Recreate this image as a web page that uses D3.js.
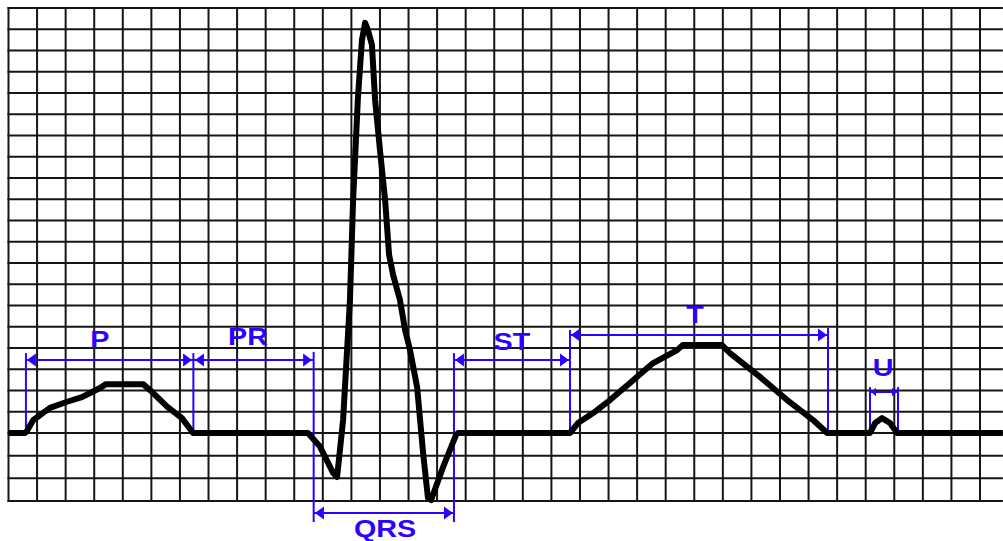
<!DOCTYPE html>
<html>
<head>
<meta charset="utf-8">
<script src="https://cdn.jsdelivr.net/npm/d3@7"></script>
<style>
  html, body { margin: 0; padding: 0; background: #fff; }
  svg { display: block; }
</style>
</head>
<body>
<svg id="chart" width="1003" height="541"></svg>
<script>
// ---- Data (grid units: x = small squares of time, y = small squares of amplitude, baseline = 0) ----
const gridCols = d3.range(0, 35);          // vertical grid lines
const gridRows = d3.range(-3, 21);         // horizontal grid lines

const ecgX = [0, 0.58, 0.65, 0.86, 1.45, 2.05, 2.57, 3.2, 3.41, 4.71, 5.02, 5.55, 6.07, 6.46,
  10.48, 10.9, 11.36, 11.5,
  11.71, 11.95, 12.06, 12.23, 12.37, 12.48,
  12.58, 12.72, 12.83, 13.0, 13.18, 13.32, 13.46, 13.7, 13.88, 14.05, 14.3, 14.51, 14.68, 14.79,
  15.21, 15.66, 15.73,
  19.65, 19.93, 20.46, 21.05, 21.75, 22.56, 23.4, 23.6, 24.97, 25.25, 26.3, 27.25, 28.16, 28.65,
  30.15, 30.33, 30.57, 30.85, 31.1, 34.8];
const ecgY = [0, 0, 0.1, 0.6, 1.18, 1.47, 1.69, 2.12, 2.3, 2.3, 1.94, 1.24, 0.7, 0,
  0, -0.6, -1.76, -1.94,
  0.61, 6.26, 10.96, 15.81, 18.49, 19.3,
  18.96, 18.26, 15.67, 13.32, 10.96, 8.38, 7.44, 6.26, 4.85, 3.91, 2.16, -0.88, -2.87, -2.96,
  -1.5, -0.09, 0,
  0, 0.47, 0.94, 1.55, 2.35, 3.29, 3.9, 4.14, 4.14, 3.76, 2.64, 1.55, 0.61, 0,
  0, 0.47, 0.7, 0.47, 0, 0];

const intervalNames = ["P", "PR", "QRS", "ST", "T", "U"];
const intervalStart = [0.61, 6.49, 10.69, 15.59, 19.65, 30.15];
const intervalEnd   = [6.46, 10.66, 15.59, 19.65, 28.68, 31.13];
const intervalLevel = [3.44, 3.44, -3.53, 3.44, 4.61, 1.93];
const labelX = [3.2, 8.38, 13.18, 17.62, 24.03, 30.61];
const labelY = [4.0, 4.14, -4.59, 3.91, 5.18, 2.68];

const markerX      = [0.61, 6.47, 10.68, 15.59, 19.65, 28.68, 30.15, 31.13];
const markerTop    = [3.76, 3.76, 3.82, 3.76, 4.85, 4.94, 2.16, 2.16];
const markerBottom = [0, 0, -3.93, -3.93, 0, 0, 0, 0];

// ---- Scales ----
const svg = d3.select("#chart");
const x = d3.scaleLinear().domain([0, 34]).range([8.5, 980]);
const y = d3.scaleLinear().domain([-3, 0, 20]).range([501, 433, 8]);
const xRight = d3.max(ecgX);
const blue = "#2f00ff";

// ---- Grid ----
const grid = svg.append("g").attr("stroke", "#161616").attr("stroke-width", 2);
grid.selectAll("line.v").data(gridCols).join("line").attr("class", "v")
  .attr("x1", d => x(d)).attr("x2", d => x(d))
  .attr("y1", y(20) - 1).attr("y2", y(-3) + 1);
grid.selectAll("line.h").data(gridRows).join("line").attr("class", "h")
  .attr("x1", x(0) - 1).attr("x2", x(xRight))
  .attr("y1", d => y(d)).attr("y2", d => y(d));

// ---- Interval annotations ----
const ann = svg.append("g");
ann.selectAll("line.mk").data(markerX).join("line").attr("class", "mk")
  .attr("x1", d => x(d)).attr("x2", d => x(d))
  .attr("y1", (d, i) => y(markerTop[i])).attr("y2", (d, i) => y(markerBottom[i]))
  .attr("stroke", blue).attr("stroke-width", 2);

const intervals = intervalNames.map((n, i) => ({
  name: n, x0: intervalStart[i], x1: intervalEnd[i], lv: intervalLevel[i], lx: labelX[i], ly: labelY[i]
}));

ann.selectAll("line.arr").data(intervals).join("line").attr("class", "arr")
  .attr("x1", d => x(d.x0)).attr("x2", d => x(d.x1))
  .attr("y1", d => y(d.lv)).attr("y2", d => y(d.lv))
  .attr("stroke", blue).attr("stroke-width", 2);

ann.selectAll("path.head").data(intervals.flatMap(d => [
  { px: x(d.x0), py: y(d.lv), dir: 1, w: x(d.x1) - x(d.x0) },
  { px: x(d.x1), py: y(d.lv), dir: -1, w: x(d.x1) - x(d.x0) }
])).join("path").attr("class", "head")
  .attr("d", h => {
    const L = Math.min(9, h.w * 0.18), H = Math.min(6.5, h.w * 0.15);
    return `M${h.px + h.dir},${h.py} L${h.px + h.dir * (L + 1)},${h.py - H} L${h.px + h.dir * (L + 1)},${h.py + H} Z`;
  })
  .attr("fill", blue);

ann.selectAll("text").data(intervals).join("text")
  .attr("transform", d => `translate(${x(d.lx)},${y(d.ly)}) scale(1.25,1)`)
  .attr("text-anchor", "middle")
  .attr("font-family", "'Liberation Sans', Arial, sans-serif")
  .attr("font-size", 23)
  .attr("font-weight", "bold")
  .attr("fill", blue)
  .text(d => d.name);

// ---- ECG trace ----
const pts = ecgX.map((v, i) => [v, ecgY[i]]);
svg.append("path").datum(pts)
  .attr("d", d3.line().x(d => x(d[0])).y(d => y(d[1])))
  .attr("fill", "none").attr("stroke", "#000").attr("stroke-width", 6)
  .attr("stroke-linejoin", "round").attr("stroke-linecap", "butt");
</script>
</body>
</html>
